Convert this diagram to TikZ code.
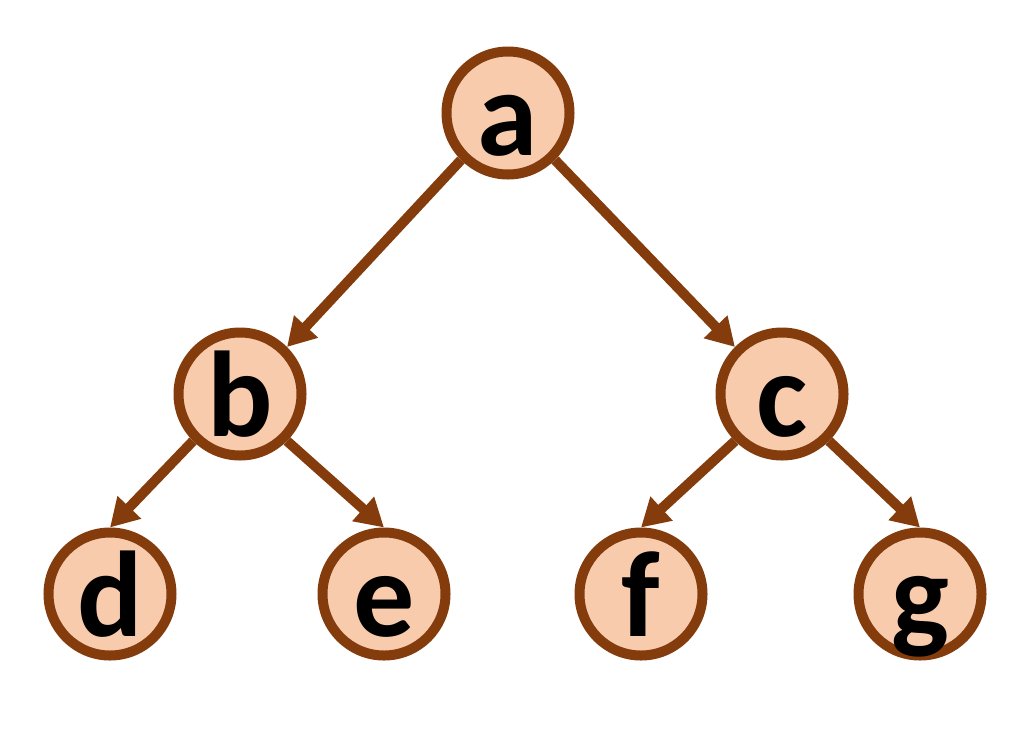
\documentclass[tikz,border=0pt]{standalone}
\usepackage{fontspec}
\setmainfont{Carlito}
\usetikzlibrary{arrows.meta}
\definecolor{nodefill}{HTML}{F8CBAD}
\definecolor{nodeline}{HTML}{843C0C}
\tikzset{
  treenode/.style={circle, draw=nodeline, fill=nodefill, line width=10pt,
    minimum size=123pt, inner sep=0pt, text height=84pt, text depth=0pt,
    font=\fontsize{122}{122}\selectfont\bfseries},
  treeedge/.style={draw=nodeline, line width=10pt,
    -{Triangle[length=28pt,width=31pt]}}
}
\begin{document}
\begin{tikzpicture}[x=1pt,y=-1pt]
\useasboundingbox (0,0) rectangle (1024,745);
\node[treenode] (a) at (508,113) {a};
\node[treenode] (b) at (240,394) {b};
\node[treenode] (c) at (782,394) {c};
\node[treenode] (d) at (110,594) {d};
\node[treenode] (e) at (384,594) {e};
\node[treenode] (f) at (641,594) {f};
\node[treenode] (g) at (920,594) {g};
\draw[treeedge] (a.south west) -- (b.north east);
\draw[treeedge] (a.south east) -- (c.north west);
\draw[treeedge] (b.south west) -- (d.north);
\draw[treeedge] (b.south east) -- (e.north);
\draw[treeedge] (c.south west) -- (f.north);
\draw[treeedge] (c.south east) -- (g.north);
\end{tikzpicture}
\end{document}
